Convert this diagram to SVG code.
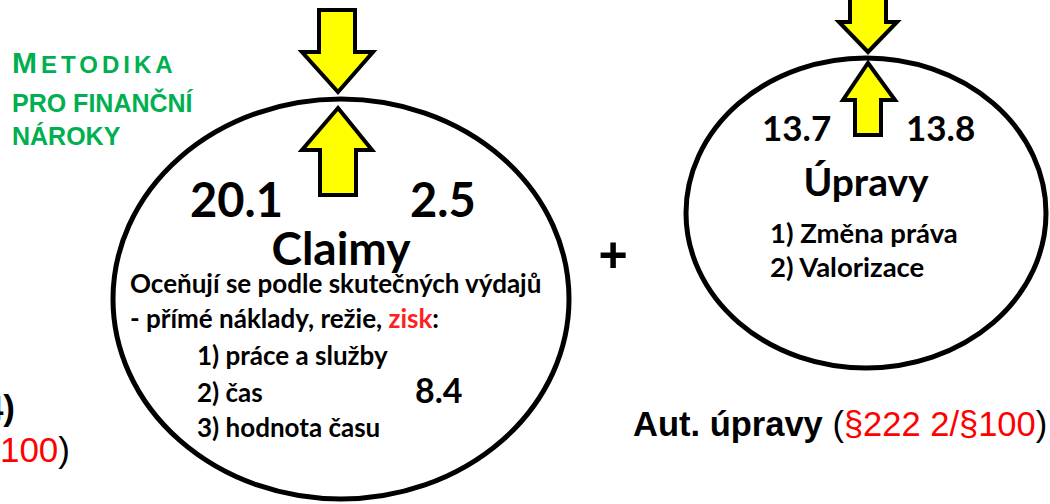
<svg xmlns="http://www.w3.org/2000/svg" width="1050" height="504" viewBox="0 0 1050 504">
<style>
.ell{fill:none;stroke:#000;stroke-width:5}
.arr{fill:#FFFF00;stroke:#000;stroke-width:4;stroke-linejoin:miter}
.cb{font-family:Lato,"Noto Sans",sans-serif;font-weight:700;fill:#000}
.gr{font-family:"Liberation Sans",Arial,sans-serif;font-weight:700;fill:#00B050}
.ar{font-family:"Liberation Sans",Arial,sans-serif}
</style>
<rect width="1050" height="504" fill="#fff"/>
<g id="title">
<text class="gr" x="12" y="73" font-size="24" letter-spacing="4"><tspan font-size="30">M</tspan>ETODIKA</text>
<text class="gr" x="12" y="112" font-size="25">PRO FINANČNÍ</text>
<text class="gr" x="12" y="145" font-size="25">NÁROKY</text>
</g>
<g id="left-labels">
<text class="ar" x="15" y="420" font-size="35" font-weight="700" text-anchor="end">4)</text>
<text class="ar" x="70" y="462" font-size="35" text-anchor="end"><tspan fill="#FF0000">100</tspan>)</text>
</g>
<g id="claimy">
<ellipse class="ell" cx="341" cy="299" rx="228" ry="200"/>
<text class="cb" x="190" y="217" font-size="47">20.1</text>
<text class="cb" x="410" y="217" font-size="47">2.5</text>
<text class="cb" x="341" y="265" font-size="46" text-anchor="middle">Claimy</text>
<text class="cb" x="130" y="293" font-size="26">Oceňují se podle skutečných výdajů</text>
<text class="cb" x="130" y="328" font-size="26">- přímé náklady, režie, <tspan fill="#FF2020">zisk</tspan>:</text>
<text class="cb" x="197" y="365" font-size="26">1) práce a služby</text>
<text class="cb" x="197" y="402" font-size="26">2) čas</text>
<text class="cb" x="197" y="437" font-size="26">3) hodnota času</text>
<text class="cb" x="415" y="403" font-size="34">8.4</text>
</g>
<g id="claimy-arrows">
<polygon class="arr" points="319,10 355,10 355,52 373,52 338,92 302,52 319,52"/>
<polygon class="arr" points="338,108 372,150 356,150 356,195 320,195 320,150 302,150"/>
</g>
<g id="plus">
<text class="ar" x="613" y="272" font-size="50" font-weight="700" text-anchor="middle">+</text>
</g>
<g id="upravy">
<ellipse class="ell" cx="866" cy="213" rx="180" ry="155" stroke-width="4"/>
<text class="cb" x="762" y="141" font-size="35">13.7</text>
<text class="cb" x="906" y="141" font-size="35">13.8</text>
<text class="cb" x="866" y="196" font-size="39" text-anchor="middle">Úpravy</text>
<text class="cb" x="770" y="243" font-size="27.5">1) Změna práva</text>
<text class="cb" x="770" y="277" font-size="27.5">2) Valorizace</text>
</g>
<g id="upravy-arrows">
<polygon class="arr" points="850,-5 886,-5 886,22 897,22 868,52 839,22 850,22"/>
<polygon class="arr" points="868,63 895,100 881,100 881,135 855,135 855,100 843,100"/>
</g>
<g id="aut">
<text class="ar" x="633" y="436" font-size="34.5"><tspan font-weight="700">Aut. úpravy</tspan> (<tspan fill="#FF0000">§222 2/§100</tspan>)</text>
</g>
</svg>
